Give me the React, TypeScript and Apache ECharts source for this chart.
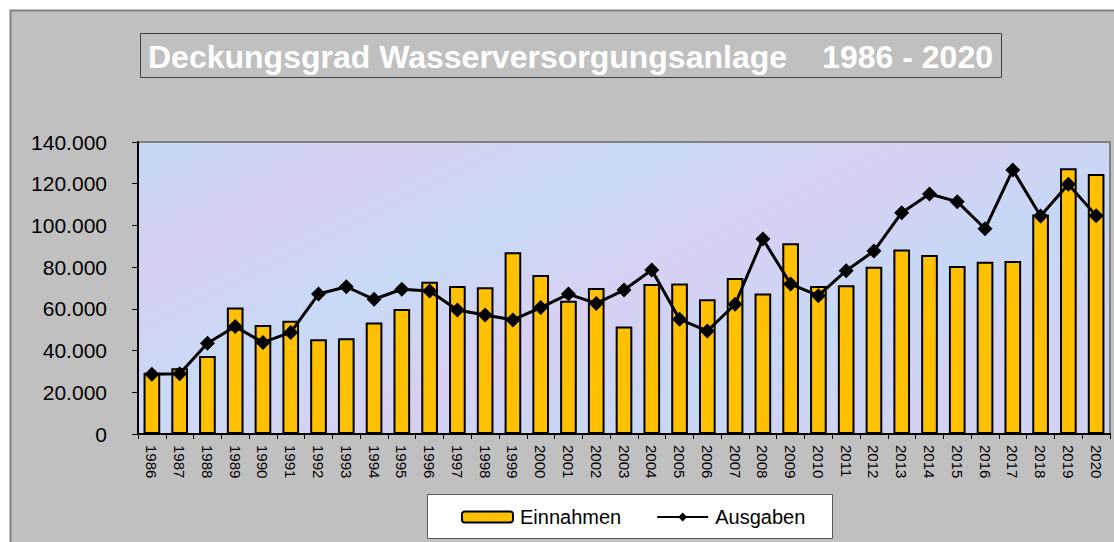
import React, { useEffect, useRef } from "react";
import * as echarts from "echarts";

const years = [
  "1986", "1987", "1988", "1989", "1990", "1991", "1992", "1993", "1994", "1995",
  "1996", "1997", "1998", "1999", "2000", "2001", "2002", "2003", "2004", "2005",
  "2006", "2007", "2008", "2009", "2010", "2011", "2012", "2013", "2014", "2015",
  "2016", "2017", "2018", "2019", "2020",
];

const einnahmen = [
  29400, 31500, 37400, 60700, 52300, 54300, 45400, 45900, 53400, 59900,
  73000, 71000, 70300, 87100, 76200, 63900, 70000, 51500, 71900, 72200,
  64600, 74800, 67400, 91400, 71000, 71300, 80200, 88500, 85800, 80500,
  82600, 82900, 105200, 127400, 124700,
];

const ausgaben = [
  28600, 28900, 43500, 51500, 43900, 48700, 67100, 70600, 64600, 69400,
  68600, 59500, 57100, 54700, 60600, 67100, 62600, 69000, 78600, 55000,
  49400, 62200, 93500, 71900, 66300, 78300, 87700, 106100, 115100, 111400,
  98400, 126600, 104500, 119700, 104700,
];

const yTicks = [0, 20000, 40000, 60000, 80000, 100000, 120000, 140000];

const FONT = '"Liberation Sans", Arial, sans-serif';

export default function App() {
  const ref = useRef<HTMLDivElement>(null);

  useEffect(() => {
    if (!ref.current) return;
    const chart = echarts.init(ref.current, null, { renderer: "svg" });
    const fmt = (v: number) => (v === 0 ? "0" : Math.round(v / 1000) + ".000");
    chart.setOption({
      animation: false,
      backgroundColor: "#C0C0C0",
      textStyle: { fontFamily: FONT },
      grid: {
        left: 138,
        right: 4,
        top: 142,
        bottom: 108,
        show: true,
        borderColor: "#808080",
        borderWidth: 2,
        backgroundColor: {
          type: "linear",
          x: 0,
          y: 0,
          x2: 1,
          y2: 0.6,
          colorStops: [
            { offset: 0, color: "#C4D8F6" },
            { offset: 0.2, color: "#D6D0F2" },
            { offset: 0.4, color: "#C8DAF6" },
            { offset: 0.6, color: "#D8D0F2" },
            { offset: 0.8, color: "#C6D8F6" },
            { offset: 1, color: "#D4D2F2" },
          ],
        },
      },
      xAxis: {
        type: "category",
        data: years,
        boundaryGap: true,
        axisLine: { show: true, lineStyle: { color: "#000", width: 2 } },
        axisTick: { show: true, length: 5, lineStyle: { color: "#000", width: 1 } },
        axisLabel: {
          rotate: -90,
          fontSize: 15,
          color: "#000",
          margin: 11,
          interval: 0,
          fontFamily: FONT,
        },
        splitLine: { show: false },
      },
      yAxis: {
        type: "value",
        min: yTicks[0],
        max: yTicks[yTicks.length - 1],
        interval: 20000,
        axisLine: { show: true, lineStyle: { color: "#000", width: 2 } },
        axisTick: { show: true, length: 6, lineStyle: { color: "#000", width: 1 } },
        axisLabel: {
          fontSize: 21,
          color: "#000",
          margin: 31,
          formatter: fmt,
          fontFamily: FONT,
        },
        splitLine: { show: false },
      },
      legend: {
        left: 461,
        top: 507,
        itemWidth: 51,
        itemHeight: 11,
        itemGap: 35,
        padding: 0,
        textStyle: { fontSize: 20, color: "#000", fontFamily: FONT, padding: [0, 0, 0, 2] },
        data: ["Einnahmen", "Ausgaben"],
      },
      graphic: [
        { type: "rect", shape: { x: 0, y: 0, width: 1114, height: 10 }, style: { fill: "#fff" }, silent: true },
        { type: "rect", shape: { x: 0, y: 0, width: 10, height: 542 }, style: { fill: "#fff" }, silent: true },
        {
          type: "polyline",
          shape: { points: [[10.5, 542], [10.5, 10.5], [1114, 10.5]] },
          style: { stroke: "#808080", lineWidth: 2, fill: null },
          silent: true,
        },
        {
          type: "rect",
          shape: { x: 140.5, y: 33.5, width: 861, height: 44 },
          style: { fill: null, stroke: "#404040", lineWidth: 1 },
          silent: true,
        },
        {
          type: "text",
          x: 148,
          y: 57,
          style: {
            text: "Deckungsgrad Wasserversorgungsanlage",
            fill: "#fff",
            font: 'bold 32px "Liberation Sans", Arial, sans-serif',
            textVerticalAlign: "middle",
            textAlign: "left",
          },
          silent: true,
        },
        {
          type: "text",
          x: 993,
          y: 57,
          style: {
            text: "1986 - 2020",
            fill: "#fff",
            font: 'bold 32px "Liberation Sans", Arial, sans-serif',
            textVerticalAlign: "middle",
            textAlign: "right",
          },
          silent: true,
        },
        {
          type: "rect",
          z: -1,
          shape: { x: 427.5, y: 494.5, width: 405, height: 44 },
          style: { fill: "#fff", stroke: "#595959", lineWidth: 1 },
          silent: true,
        },
      ],
      series: [
        {
          name: "Einnahmen",
          type: "bar",
          data: einnahmen,
          barWidth: "60%",
          itemStyle: { color: "#FFC000", borderColor: "#000", borderWidth: 2 },
          z: 2,
        },
        {
          name: "Ausgaben",
          type: "line",
          data: ausgaben,
          symbol: "diamond",
          symbolSize: 15,
          lineStyle: { color: "#000", width: 3 },
          itemStyle: { color: "#000" },
          z: 3,
        },
      ],
    });
    return () => chart.dispose();
  }, []);

  return (
    <div
      ref={ref}
      style={{ position: "fixed", left: 0, top: 0, width: 1114, height: 542 }}
    />
  );
}
